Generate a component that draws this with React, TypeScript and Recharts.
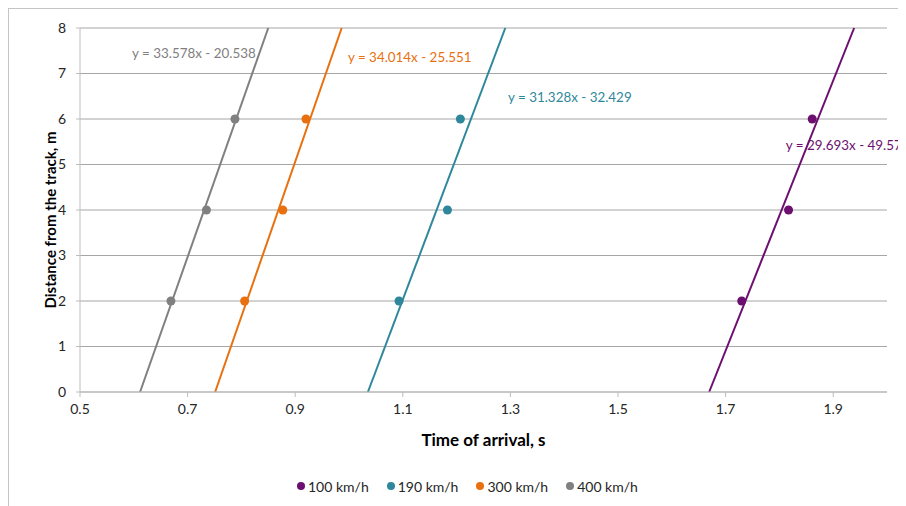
import React from 'react';
import { ScatterChart, Scatter, XAxis, YAxis, CartesianGrid, ReferenceLine, ReferenceDot, Label } from 'recharts';

// distances from the track, m (same for every speed)
const distances = [2, 4, 6];

// arrival times, s
const times100 = [1.730, 1.817, 1.861];
const times190 = [1.093, 1.183, 1.207];
const times300 = [0.806, 0.877, 0.920];
const times400 = [0.669, 0.735, 0.788];

const speeds = ['100 km/h', '190 km/h', '300 km/h', '400 km/h'];
const colors = ['#6c0f70', '#2f879c', '#e8700f', '#808080'];

// linear trendlines y = slope * x + intercept
const slopes = [29.693, 31.328, 34.014, 33.578];
const intercepts = [-49.571, -32.429, -25.551, -20.538];

// where each trendline equation sits (data coords, left edge of text)
const labelX = [1.812, 1.2955, 0.998, 0.5967];
const labelY = [5.43, 6.48, 7.36, 7.45];

const xTicks = [0.5, 0.7, 0.9, 1.1, 1.3, 1.5, 1.7, 1.9];
const yTicks = [0, 1, 2, 3, 4, 5, 6, 7, 8];

const allTimes = [times100, times190, times300, times400];

const font = 'Lato, "Open Sans", sans-serif';

const App = () => {
  const series = speeds.map((name, i) => ({
    name,
    color: colors[i],
    points: allTimes[i].map((t, j) => ({ x: t, y: distances[j] })),
    line: [
      { x: (0 - intercepts[i]) / slopes[i], y: 0 },
      { x: (8 - intercepts[i]) / slopes[i], y: 8 },
    ],
    eq: `y = ${slopes[i].toFixed(3)}x - ${Math.abs(intercepts[i]).toFixed(3)}`,
  }));

  return (
    <div style={{ position: 'relative', width: 897, height: 497, borderTop: '1px solid #c4c4c4', borderLeft: '1px solid #c4c4c4', fontFamily: font }}>
      <style>{'html,body{overflow:hidden}'}</style>
      <ScatterChart width={897} height={497} margin={{ top: 19, right: 19, bottom: 44, left: 0 }} style={{ fontFamily: font }}>
        <CartesianGrid vertical={false} stroke="#a6a6a6" />
        <XAxis
          type="number"
          dataKey="x"
          domain={[0.5, 2.0]}
          ticks={xTicks}
          height={70}
          stroke="#bdbdbd"
          tickSize={5}
          tickMargin={7}
          tick={{ fill: '#262626', fontSize: 14 }}
          tickFormatter={(v: number) => v.toFixed(1)}
          allowDataOverflow
        >
          <Label
            content={({ viewBox }: any) => (
              <text x={viewBox.x + viewBox.width / 2} y={viewBox.y + 47} textAnchor="middle" dominantBaseline="central" fontWeight="bold" fontSize={17} fill="#000">
                Time of arrival, s
              </text>
            )}
          />
        </XAxis>
        <YAxis
          type="number"
          dataKey="y"
          domain={[0, 8]}
          ticks={yTicks}
          width={71}
          stroke="#bdbdbd"
          tickSize={4}
          tickMargin={10}
          tick={{ fill: '#262626', fontSize: 14 }}
          allowDataOverflow
        >
          <Label
            content={({ viewBox }: any) => {
              const cx = viewBox.x + 41;
              const cy = viewBox.y + viewBox.height / 2 + 10;
              return (
                <text x={cx} y={cy} transform={`rotate(-90 ${cx} ${cy})`} textAnchor="middle" dominantBaseline="central" fontWeight="bold" fontSize={15} fill="#000">
                  Distance from the track, m
                </text>
              );
            }}
          />
        </YAxis>
        {series.map((s) => (
          <ReferenceLine key={'l' + s.name} segment={s.line} stroke={s.color} strokeWidth={2} />
        ))}
        {series.map((s) => (
          <Scatter key={s.name} name={s.name} data={s.points} fill={s.color} isAnimationActive={false} />
        ))}
        {series.map((s, i) => (
          <ReferenceDot
            key={'t' + s.name}
            x={labelX[i]}
            y={labelY[i]}
            r={0}
            stroke="none"
            label={{ value: s.eq, position: 'right', offset: 0, fill: s.color, fontSize: 13.4 }}
          />
        ))}
      </ScatterChart>
      <div style={{ position: 'absolute', top: 468, left: 288, height: 18, display: 'flex', alignItems: 'center', fontSize: 14, color: '#262626', whiteSpace: 'nowrap' }}>
        {series.map((s) => (
          <div key={s.name} style={{ display: 'flex', alignItems: 'center', marginRight: 18 }}>
            <span style={{ width: 8, height: 8, borderRadius: 4, background: s.color, marginRight: 3 }} />
            <span>{s.name}</span>
          </div>
        ))}
      </div>
    </div>
  );
};

export default App;
